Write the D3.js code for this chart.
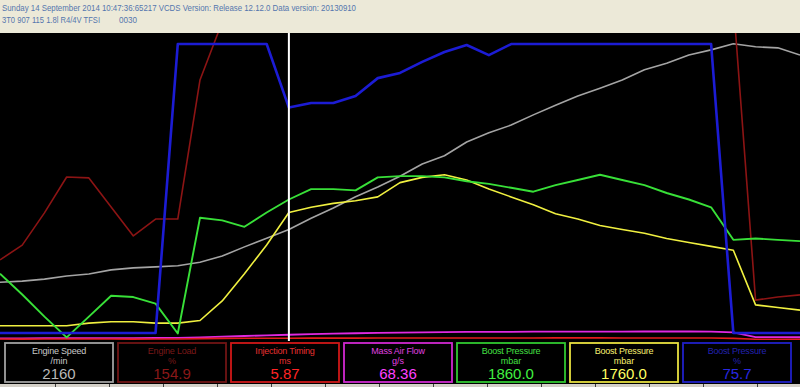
<!DOCTYPE html>
<html>
<head>
<meta charset="utf-8">
<script src="https://cdnjs.cloudflare.com/ajax/libs/d3/7.8.5/d3.min.js"></script>
<style>
  body { margin: 0; background: #ece9d8; overflow: hidden; }
  svg { display: block; }
</style>
</head>
<body>
<div id="canvas"></div>
<script>
;(function() {

  // header lines of the VCDS log
  var headerLine1 = "Sunday 14 September 2014 10:47:36:65217 VCDS Version: Release 12.12.0 Data version: 20130910";
  var headerLine2 = "3T0 907 115  1.8l R4/4V TFSI";
  var headerCode = "0030";

  // sample where the white cursor sits
  var cursorIndex = 13;

  // logged values, one per sample (37 samples)
  var engineSpeed = [1130, 1150, 1190, 1250, 1290, 1370, 1410, 1430, 1450, 1520, 1640, 1820, 1990, 2160,
    2380, 2580, 2800, 2990, 3200, 3440, 3600, 3870, 4050, 4200, 4400, 4590, 4770, 4920, 5080, 5280,
    5410, 5570, 5670, 5790, 5730, 5710, 5570];
  var engineLoad = [26.1, 30.9, 41.4, 53.1, 52.8, 43.3, 33.9, 39.4, 39.4, 84.7, 103.6, 142, 150, 154.9,
    156, 157, 158, 158, 159, 160, 160, 161, 161, 161, 162, 162, 162, 162, 161, 161, 160, 160, 158,
    110, 13.0, 14.0, 14.7];
  var injectionTiming = [3.1, 3.0, 3.2, 3.4, 3.3, 3.1, 3.0, 3.2, 3.5, 4.6, 5.2, 5.5, 5.7, 5.87,
    6.0, 6.1, 6.2, 6.3, 6.4, 6.5, 6.5, 6.6, 6.6, 6.7, 6.7, 6.8, 6.8, 6.8, 6.7, 6.7, 6.6, 6.6, 6.5,
    5.2, 2.4, 2.4, 2.3];
  var massAirFlow = [22, 22, 24, 25, 24, 24, 25, 26, 27, 35, 45, 52, 60, 68.36,
    76, 82, 88, 92, 96, 99, 102, 105, 106, 107, 108, 108, 109, 110, 110, 111, 111, 111, 108,
    100, 38, 37, 36];
  var boostActual = [1290, 1130, 960, 800, 960, 1120, 1110, 1060, 830, 1720, 1700, 1650, 1760, 1860,
    1940, 1940, 1930, 2030, 2040, 2040, 2030, 2000, 1980, 1950, 1920, 1970, 2010, 2050, 2010, 1970,
    1910, 1860, 1800, 1550, 1560, 1550, 1540];
  var boostSpecified = [890, 890, 890, 890, 910, 920, 920, 910, 910, 930, 1080, 1290, 1510, 1760,
    1800, 1830, 1850, 1880, 1990, 2030, 2050, 2010, 1940, 1880, 1820, 1750, 1710, 1660, 1630, 1600,
    1560, 1530, 1500, 1470, 1050, 1030, 1010];
  var boostDuty = [2.3, 2.3, 2.3, 2.3, 2.3, 2.3, 2.3, 2.3, 96.4, 96.4, 96.4, 96.4, 96.4, 75.7,
    77.2, 77.2, 79.5, 85.3, 87.0, 90.6, 93.8, 96.1, 92.8, 96.4, 96.4, 96.4, 96.4, 96.4, 96.4, 96.4,
    96.4, 96.4, 96.4, 2.3, 2.3, 2.3, 2.3];

  // graph range of each channel
  var speedRange = [0, 6000];
  var loadRange = [0, 100];
  var injectionRange = [0, 1000];
  var airFlowRange = [0, 4000];
  var boostRange = [780, 3140];
  var dutyRange = [0, 100];

  // the seven channel boxes
  var channelNames = ["Engine Speed", "Engine Load", "Injection Timing", "Mass Air Flow",
    "Boost Pressure", "Boost Pressure", "Boost Pressure"];
  var channelUnits = ["/min", "%", "ms", "g/s", "mbar", "mbar", "%"];
  var channelDecimals = [0, 1, 2, 2, 1, 1, 1];

  var width = 800, height = 387;
  var plotTop = 33, plotBottom = 341;

  var svg = d3.select('#canvas').append('svg')
    .attr('width', width)
    .attr('height', height);

  // header
  svg.append('rect')
    .attr('x', 0).attr('y', 0)
    .attr('width', width).attr('height', plotTop)
    .attr('fill', '#ece9d8');

  var headFont = "'Liberation Sans', Arial, sans-serif";
  svg.append('text')
    .attr('x', 2).attr('y', 11)
    .attr('textLength', 354).attr('lengthAdjust', 'spacingAndGlyphs')
    .style('font-family', headFont).style('font-size', '9px')
    .attr('fill', '#5476ae')
    .text(headerLine1);
  svg.append('text')
    .attr('x', 2).attr('y', 22.5)
    .attr('textLength', 98).attr('lengthAdjust', 'spacingAndGlyphs')
    .style('font-family', headFont).style('font-size', '9px')
    .attr('fill', '#5476ae')
    .text(headerLine2);
  svg.append('text')
    .attr('x', 119).attr('y', 22.5)
    .attr('textLength', 18).attr('lengthAdjust', 'spacingAndGlyphs')
    .style('font-family', headFont).style('font-size', '9px')
    .attr('fill', '#5476ae')
    .text(headerCode);

  // black graph + box area
  svg.append('rect')
    .attr('x', 0).attr('y', plotTop)
    .attr('width', width).attr('height', 384 - plotTop)
    .attr('fill', '#000');

  svg.append('clipPath').attr('id', 'plotclip')
    .append('rect')
    .attr('x', 0).attr('y', plotTop)
    .attr('width', width).attr('height', plotBottom - plotTop);

  var x = d3.scaleLinear().domain([0, engineSpeed.length - 1]).range([0, width]);

  var channels = [
    {values: engineSpeed, range: speedRange, color: '#a4a4a4', stroke: 1.6},
    {values: engineLoad, range: loadRange, color: '#8c1414', stroke: 1.6},
    {values: injectionTiming, range: injectionRange, color: '#e41c1c', stroke: 1.6},
    {values: massAirFlow, range: airFlowRange, color: '#e028e0', stroke: 1.8},
    {values: boostActual, range: boostRange, color: '#38e038', stroke: 1.9},
    {values: boostSpecified, range: boostRange, color: '#f0f040', stroke: 1.6},
    {values: boostDuty, range: dutyRange, color: '#1c1cd4', stroke: 2.6}
  ];

  var drawOrder = [3, 2, 0, 1, 5, 4, 6];

  var lines = svg.append('g').attr('clip-path', 'url(#plotclip)');

  drawOrder.forEach(function(k) {
    var c = channels[k];
    var y = d3.scaleLinear().domain(c.range).range([plotBottom - 1, plotTop]);
    var line = d3.line()
      .x(function(d, i) { return x(i); })
      .y(function(d) { return y(d); });
    lines.append('path')
      .datum(c.values)
      .attr('d', line)
      .attr('fill', 'none')
      .attr('stroke', c.color)
      .attr('stroke-width', c.stroke)
      .attr('stroke-linejoin', 'round');
  });

  // cursor
  svg.append('line')
    .attr('x1', x(cursorIndex)).attr('x2', x(cursorIndex))
    .attr('y1', plotTop).attr('y2', plotBottom)
    .attr('stroke', '#fff')
    .attr('stroke-width', 2);

  // channel boxes
  var borderColors = ['#a0a0a0', '#701414', '#d01818', '#d028d0', '#30c830', '#e8e040', '#2020c8'];
  var labelColors = ['#c8c8c8', '#7a1818', '#e83030', '#e040e0', '#44e044', '#f8f070', '#2222b0'];
  var valueColors = ['#b8b8b8', '#8a1818', '#ff2424', '#ff40ff', '#40f040', '#ffff60', '#2828e0'];

  var boxes = svg.selectAll('g.box')
    .data(channelNames)
    .enter()
    .append('g')
    .attr('class', 'box')
    .attr('transform', function(d, i) { return 'translate(' + (4 + i * 113) + ',342)'; });

  boxes.append('rect')
    .attr('x', 1).attr('y', 1)
    .attr('width', 108).attr('height', 39)
    .attr('fill', '#000')
    .attr('stroke', function(d, i) { return borderColors[i]; })
    .attr('stroke-width', 1.8);

  boxes.append('text')
    .attr('x', 55).attr('y', 12)
    .attr('text-anchor', 'middle')
    .style('font-family', headFont).style('font-size', '9px')
    .style('letter-spacing', '-0.2px')
    .attr('fill', function(d, i) { return labelColors[i]; })
    .text(function(d) { return d; });

  boxes.append('text')
    .attr('x', 55).attr('y', 22)
    .attr('text-anchor', 'middle')
    .style('font-family', headFont).style('font-size', '9px')
    .attr('fill', function(d, i) { return labelColors[i]; })
    .text(function(d, i) { return channelUnits[i]; });

  boxes.append('text')
    .attr('x', 55).attr('y', 37)
    .attr('text-anchor', 'middle')
    .style('font-family', headFont).style('font-size', '15px')
    .attr('fill', function(d, i) { return valueColors[i]; })
    .text(function(d, i) {
      return channels[i].values[cursorIndex].toFixed(channelDecimals[i]);
    });

  // strip of column headers at the bottom edge
  svg.append('rect')
    .attr('x', 0).attr('y', 384)
    .attr('width', width).attr('height', 3)
    .attr('fill', '#d4d0c8');
  for (var s = 0; s < 15; s++) {
    svg.append('rect')
      .attr('x', 55 + s * 54).attr('y', 384)
      .attr('width', 1).attr('height', 3)
      .attr('fill', '#404040');
  }

})();
</script>
</body>
</html>
